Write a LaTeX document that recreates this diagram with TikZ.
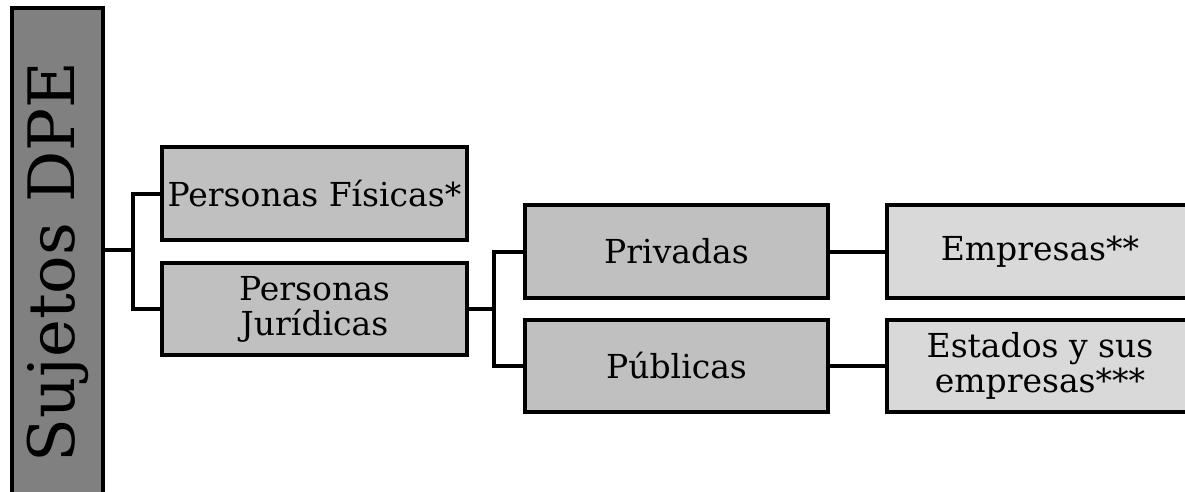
\documentclass[tikz,border=0pt]{standalone}
\usepackage{fontspec}
\setmainfont{DejaVu Serif}
\begin{document}
\begin{tikzpicture}[x=1pt,y=-1pt,
  box/.style={draw=black, line width=4pt, rectangle, inner sep=0pt, align=center,
    font=\fontsize{33}{35}\selectfont},
  mid/.style={box, fill=boxgray},
  light/.style={box, fill=boxlight},
  conn/.style={draw=black, line width=4pt}]
\definecolor{boxgray}{HTML}{C0C0C0}
\definecolor{boxlight}{HTML}{D9D9D9}
\definecolor{rootgray}{HTML}{808080}
\useasboundingbox (0,0) rectangle (1185,492);
\clip (0,0) rectangle (1185,492);
\node[box, fill=rootgray, minimum width=91pt, minimum height=512pt] (root) at (57.5,264) {};
\node[rotate=90, font=\fontsize{64}{66}\selectfont] (roottxt) at (57.5,262) {Sujetos DPE};
\node[mid, minimum width=305pt, minimum height=93pt] (pf) at (314.5,193.5) {Personas Físicas*};
\node[mid, minimum width=305pt, minimum height=92pt] (pj) at (314.5,309) {Personas\\Jurídicas};
\node[mid, minimum width=303pt, minimum height=93pt] (priv) at (676.5,251.5) {Privadas};
\node[mid, minimum width=303pt, minimum height=92pt] (pub) at (676.5,366) {Públicas};
\node[light, minimum width=306pt, minimum height=93pt] (emp) at (1040,251.5) {Empresas**};
\node[light, minimum width=306pt, minimum height=92pt] (est) at (1040,366) {Estados y sus\\empresas***};
\coordinate (j1) at (133,250);
\coordinate (j2) at (494,309);
\draw[conn] (root.east |- j1) -- (j1);
\draw[conn] (pf.west) -| (j1) |- (pj.west);
\draw[conn] (pj.east) -- (j2);
\draw[conn] (priv.west) -| (j2) |- (pub.west);
\draw[conn] (priv.east) -- (emp.west);
\draw[conn] (pub.east) -- (est.west);
\end{tikzpicture}
\end{document}
